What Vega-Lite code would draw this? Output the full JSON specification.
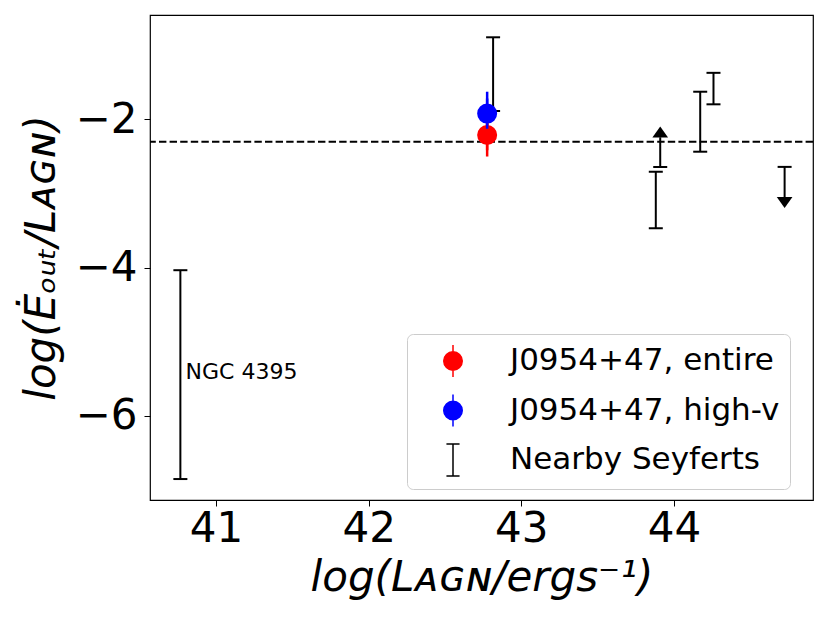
{
  "$schema": "https://vega.github.io/schema/vega-lite/v6.json",
  "width": 663,
  "height": 485,
  "autosize": "none",
  "padding": {"left": 150, "top": 15, "right": 17, "bottom": 123},
  "background": "white",
  "datasets": {
    "j0954": [
      {"series": "J0954+47, entire", "lum": 42.776, "ratio": -2.21, "lo": -2.50, "hi": -1.92},
      {"series": "J0954+47, high-v", "lum": 42.776, "ratio": -1.92, "lo": -2.2, "hi": -1.625}
    ],
    "seyferts": [
      {"name": "NGC 4395", "lum": 40.766, "lo": -6.855, "hi": -4.035},
      {"name": "", "lum": 42.815, "lo": -1.885, "hi": -0.89},
      {"name": "", "lum": 43.881, "lo": -3.47, "hi": -2.705},
      {"name": "", "lum": 44.172, "lo": -2.435, "hi": -1.625},
      {"name": "", "lum": 44.259, "lo": -1.795, "hi": -1.37}
    ],
    "limits": [
      {"dir": "up", "lum": 43.91, "cap": -2.64, "base": -2.24, "head": -2.169},
      {"dir": "down", "lum": 44.725, "cap": -2.64, "base": -3.05, "head": -3.121}
    ],
    "labels": [
      {"label": "NGC 4395", "lum": 40.80, "ratio": -5.41}
    ],
    "level": [
      {"ratio": -2.3}
    ]
  },
  "encoding": {
    "x": {
      "type": "quantitative",
      "scale": {"domain": [40.567, 44.911], "nice": false, "zero": false},
      "axis": {"values": [41, 42, 43, 44], "title": "log(Lᴀɢɴ/ergs⁻¹)"}
    },
    "y": {
      "type": "quantitative",
      "scale": {"domain": [-7.138, -0.589], "nice": false, "zero": false},
      "axis": {"values": [-6, -4, -2], "title": "log(Ėₒᵤₜ/Lᴀɢɴ)"}
    }
  },
  "layer": [
    {
      "data": {"name": "level"},
      "mark": {"type": "rule", "color": "black", "strokeWidth": 2, "strokeDash": [7.4, 3.2]},
      "encoding": {"y": {"field": "ratio", "type": "quantitative"}}
    },
    {
      "data": {"name": "seyferts"},
      "mark": {"type": "rule", "color": "black", "strokeWidth": 2},
      "encoding": {
        "x": {"field": "lum", "type": "quantitative"},
        "y": {"field": "lo", "type": "quantitative"},
        "y2": {"field": "hi"}
      }
    },
    {
      "data": {"name": "seyferts"},
      "mark": {"type": "tick", "orient": "horizontal", "color": "black", "size": 14, "thickness": 2, "opacity": 1},
      "encoding": {
        "x": {"field": "lum", "type": "quantitative"},
        "y": {"field": "lo", "type": "quantitative"}
      }
    },
    {
      "data": {"name": "seyferts"},
      "mark": {"type": "tick", "orient": "horizontal", "color": "black", "size": 14, "thickness": 2, "opacity": 1},
      "encoding": {
        "x": {"field": "lum", "type": "quantitative"},
        "y": {"field": "hi", "type": "quantitative"}
      }
    },
    {
      "data": {"name": "limits"},
      "mark": {"type": "rule", "color": "black", "strokeWidth": 2},
      "encoding": {
        "x": {"field": "lum", "type": "quantitative"},
        "y": {"field": "cap", "type": "quantitative"},
        "y2": {"field": "base"}
      }
    },
    {
      "data": {"name": "limits"},
      "mark": {"type": "tick", "orient": "horizontal", "color": "black", "size": 14, "thickness": 2, "opacity": 1},
      "encoding": {
        "x": {"field": "lum", "type": "quantitative"},
        "y": {"field": "cap", "type": "quantitative"}
      }
    },
    {
      "data": {"name": "limits"},
      "transform": [{"filter": "datum.dir == 'up'"}],
      "mark": {"type": "point", "shape": "M0,-0.7L-1,0.7L1,0.7Z", "filled": true, "color": "black", "opacity": 1, "size": 246},
      "encoding": {
        "x": {"field": "lum", "type": "quantitative"},
        "y": {"field": "head", "type": "quantitative"}
      }
    },
    {
      "data": {"name": "limits"},
      "transform": [{"filter": "datum.dir == 'down'"}],
      "mark": {"type": "point", "shape": "M0,0.7L-1,-0.7L1,-0.7Z", "filled": true, "color": "black", "opacity": 1, "size": 246},
      "encoding": {
        "x": {"field": "lum", "type": "quantitative"},
        "y": {"field": "head", "type": "quantitative"}
      }
    },
    {
      "data": {"name": "labels"},
      "mark": {"type": "text", "align": "left", "baseline": "middle", "fontSize": 22, "color": "black"},
      "encoding": {
        "x": {"field": "lum", "type": "quantitative"},
        "y": {"field": "ratio", "type": "quantitative"},
        "text": {"field": "label"}
      }
    },
    {
      "data": {"name": "j0954"},
      "transform": [{"filter": "datum.series == 'J0954+47, high-v'"}],
      "mark": {"type": "rule", "color": "blue", "strokeWidth": 2.5},
      "encoding": {
        "x": {"field": "lum", "type": "quantitative"},
        "y": {"field": "lo", "type": "quantitative"},
        "y2": {"field": "hi"}
      }
    },
    {
      "data": {"name": "j0954"},
      "transform": [{"filter": "datum.series == 'J0954+47, entire'"}],
      "mark": {"type": "rule", "color": "red", "strokeWidth": 2.5},
      "encoding": {
        "x": {"field": "lum", "type": "quantitative"},
        "y": {"field": "lo", "type": "quantitative"},
        "y2": {"field": "hi"}
      }
    },
    {
      "data": {"name": "j0954"},
      "mark": {"type": "point", "filled": false, "opacity": 1, "size": 917, "strokeWidth": 2.5},
      "encoding": {
        "x": {"field": "lum", "type": "quantitative"},
        "y": {"field": "ratio", "type": "quantitative"},
        "color": {
          "field": "series",
          "type": "nominal",
          "scale": {
            "domain": ["J0954+47, entire", "J0954+47, high-v", "Nearby Seyferts"],
            "range": ["#ff0000", "#0000ff", "#000000"]
          },
          "legend": {
            "title": null,
            "orient": "none",
            "legendX": 257,
            "legendY": 319,
            "padding": 10,
            "fillColor": "white",
            "strokeColor": "#cccccc",
            "cornerRadius": 6,
            "symbolSize": 1024,
            "symbolOffset": 19,
            "labelOffset": 40,
            "rowPadding": 11.5,
            "labelFontSize": 31,
            "labelColor": "black",
            "labelLimit": 400,
            "labelExpr": "datum.label + ' '"
          }
        },
        "fill": {
          "field": "series",
          "type": "nominal",
          "scale": {
            "domain": ["J0954+47, entire", "J0954+47, high-v", "Nearby Seyferts"],
            "range": ["#ff0000", "#0000ff", "#000000"]
          },
          "legend": {"title": null}
        },
        "shape": {
          "field": "series",
          "type": "nominal",
          "scale": {
            "domain": ["J0954+47, entire", "J0954+47, high-v", "Nearby Seyferts"],
            "range": [
              "M0,-1V1M-0.578,0A0.578,0.578,0,1,0,0.578,0A0.578,0.578,0,1,0,-0.578,0Z",
              "M0,-1V1M-0.578,0A0.578,0.578,0,1,0,0.578,0A0.578,0.578,0,1,0,-0.578,0Z",
              "M-0.41,-1H0.41M0,-1V1M-0.41,1H0.41"
            ]
          },
          "legend": {"title": null}
        }
      }
    }
  ],
  "config": {
    "font": "DejaVu Sans",
    "view": {"stroke": "black", "strokeWidth": 1.2},
    "axis": {
      "grid": false,
      "domain": false,
      "ticks": true,
      "tickColor": "black",
      "tickSize": 6,
      "tickWidth": 1,
      "labelFont": "DejaVu Sans",
      "labelFontSize": 42,
      "labelColor": "black",
      "titleFont": "DejaVu Sans",
      "titleFontSize": 42,
      "titleFontStyle": "italic",
      "titleFontWeight": "normal",
      "titleColor": "black"
    },
    "axisX": {"labelPadding": 2, "titlePadding": 8},
    "axisY": {"labelPadding": 7, "titlePadding": 12},
    "legend": {"labelFont": "DejaVu Sans"}
  }
}
